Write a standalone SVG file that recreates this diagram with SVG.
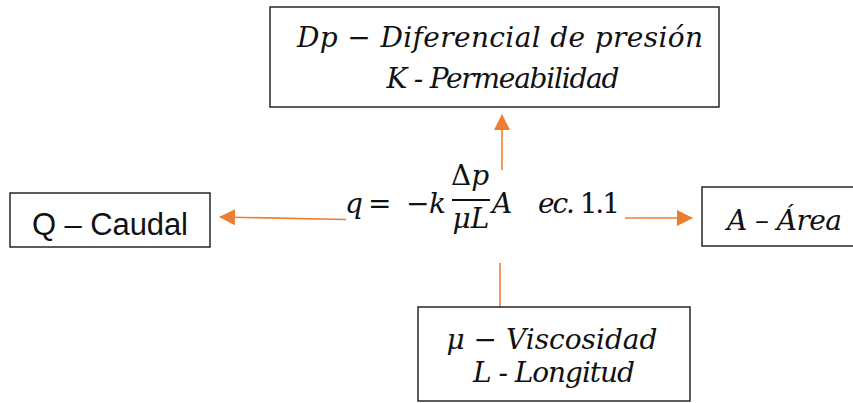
<svg xmlns="http://www.w3.org/2000/svg" width="853" height="403" viewBox="0 0 853 403">
<style>
.box{fill:#fff;stroke:#262626;stroke-width:1.5}
.m{font-family:"DejaVu Serif","Liberation Serif",serif;font-style:italic;font-size:28px;fill:#111}
.u{font-style:normal}
.s{font-family:"Liberation Sans",Arial,sans-serif;font-size:31px;fill:#111}
.c{fill:none;stroke:#ED7D31;stroke-width:1.6}
</style>
<defs>
<marker id="ah" viewBox="0 0 16 16" refX="15" refY="8" markerWidth="16" markerHeight="16" markerUnits="userSpaceOnUse" orient="auto">
<path d="M0,0 L16,8 L0,16 Z" fill="#ED7D31"/>
</marker>
</defs>
<rect width="853" height="403" fill="#fff"/>
<g id="connectors">
<line class="c" x1="502" y1="170" x2="502" y2="115" marker-end="url(#ah)"/>
<line class="c" x1="346" y1="219.5" x2="220" y2="217" marker-end="url(#ah)"/>
<line class="c" x1="625" y1="218" x2="692" y2="218" marker-end="url(#ah)"/>
<line class="c" x1="500" y1="263" x2="500" y2="307"/>
</g>
<g id="node-presion">
<rect class="box" x="270" y="7" width="449" height="100"/>
<text class="m" x="500" y="47" text-anchor="middle" textLength="406">Dp <tspan class="u">−</tspan> Diferencial de presión</text>
<text class="m" x="503" y="88" text-anchor="middle" textLength="233">K - Permeabilidad</text>
</g>
<g id="node-caudal">
<rect class="box" x="10" y="193" width="200" height="54"/>
<text class="s" x="110" y="235" text-anchor="middle" textLength="156">Q – Caudal</text>
</g>
<g id="node-formula">
<text class="m" x="345" y="213">q</text>
<text class="m u" x="368" y="213">=</text>
<text class="m u" x="406" y="213">−</text>
<text class="m" x="429" y="213">k</text>
<line x1="452" y1="200" x2="490" y2="200" stroke="#111" stroke-width="1.8"/>
<text class="m" x="470" y="185" text-anchor="middle"><tspan class="u">Δ</tspan>p</text>
<text class="m" x="471" y="228" text-anchor="middle">μL</text>
<text class="m" x="492" y="213">A</text>
<text class="m" x="538" y="213" textLength="82">ec. <tspan class="u">1.1</tspan></text>
</g>
<g id="node-area">
<rect class="box" x="702" y="187" width="160" height="59"/>
<text class="m" x="727" y="230" textLength="115">A – Área</text>
</g>
<g id="node-viscosidad">
<rect class="box" x="418" y="307" width="272" height="94"/>
<text class="m" x="552" y="349" text-anchor="middle" textLength="211">μ <tspan class="u">−</tspan> Viscosidad</text>
<text class="m" x="554" y="382" text-anchor="middle" textLength="162">L - Longitud</text>
</g>
</svg>
